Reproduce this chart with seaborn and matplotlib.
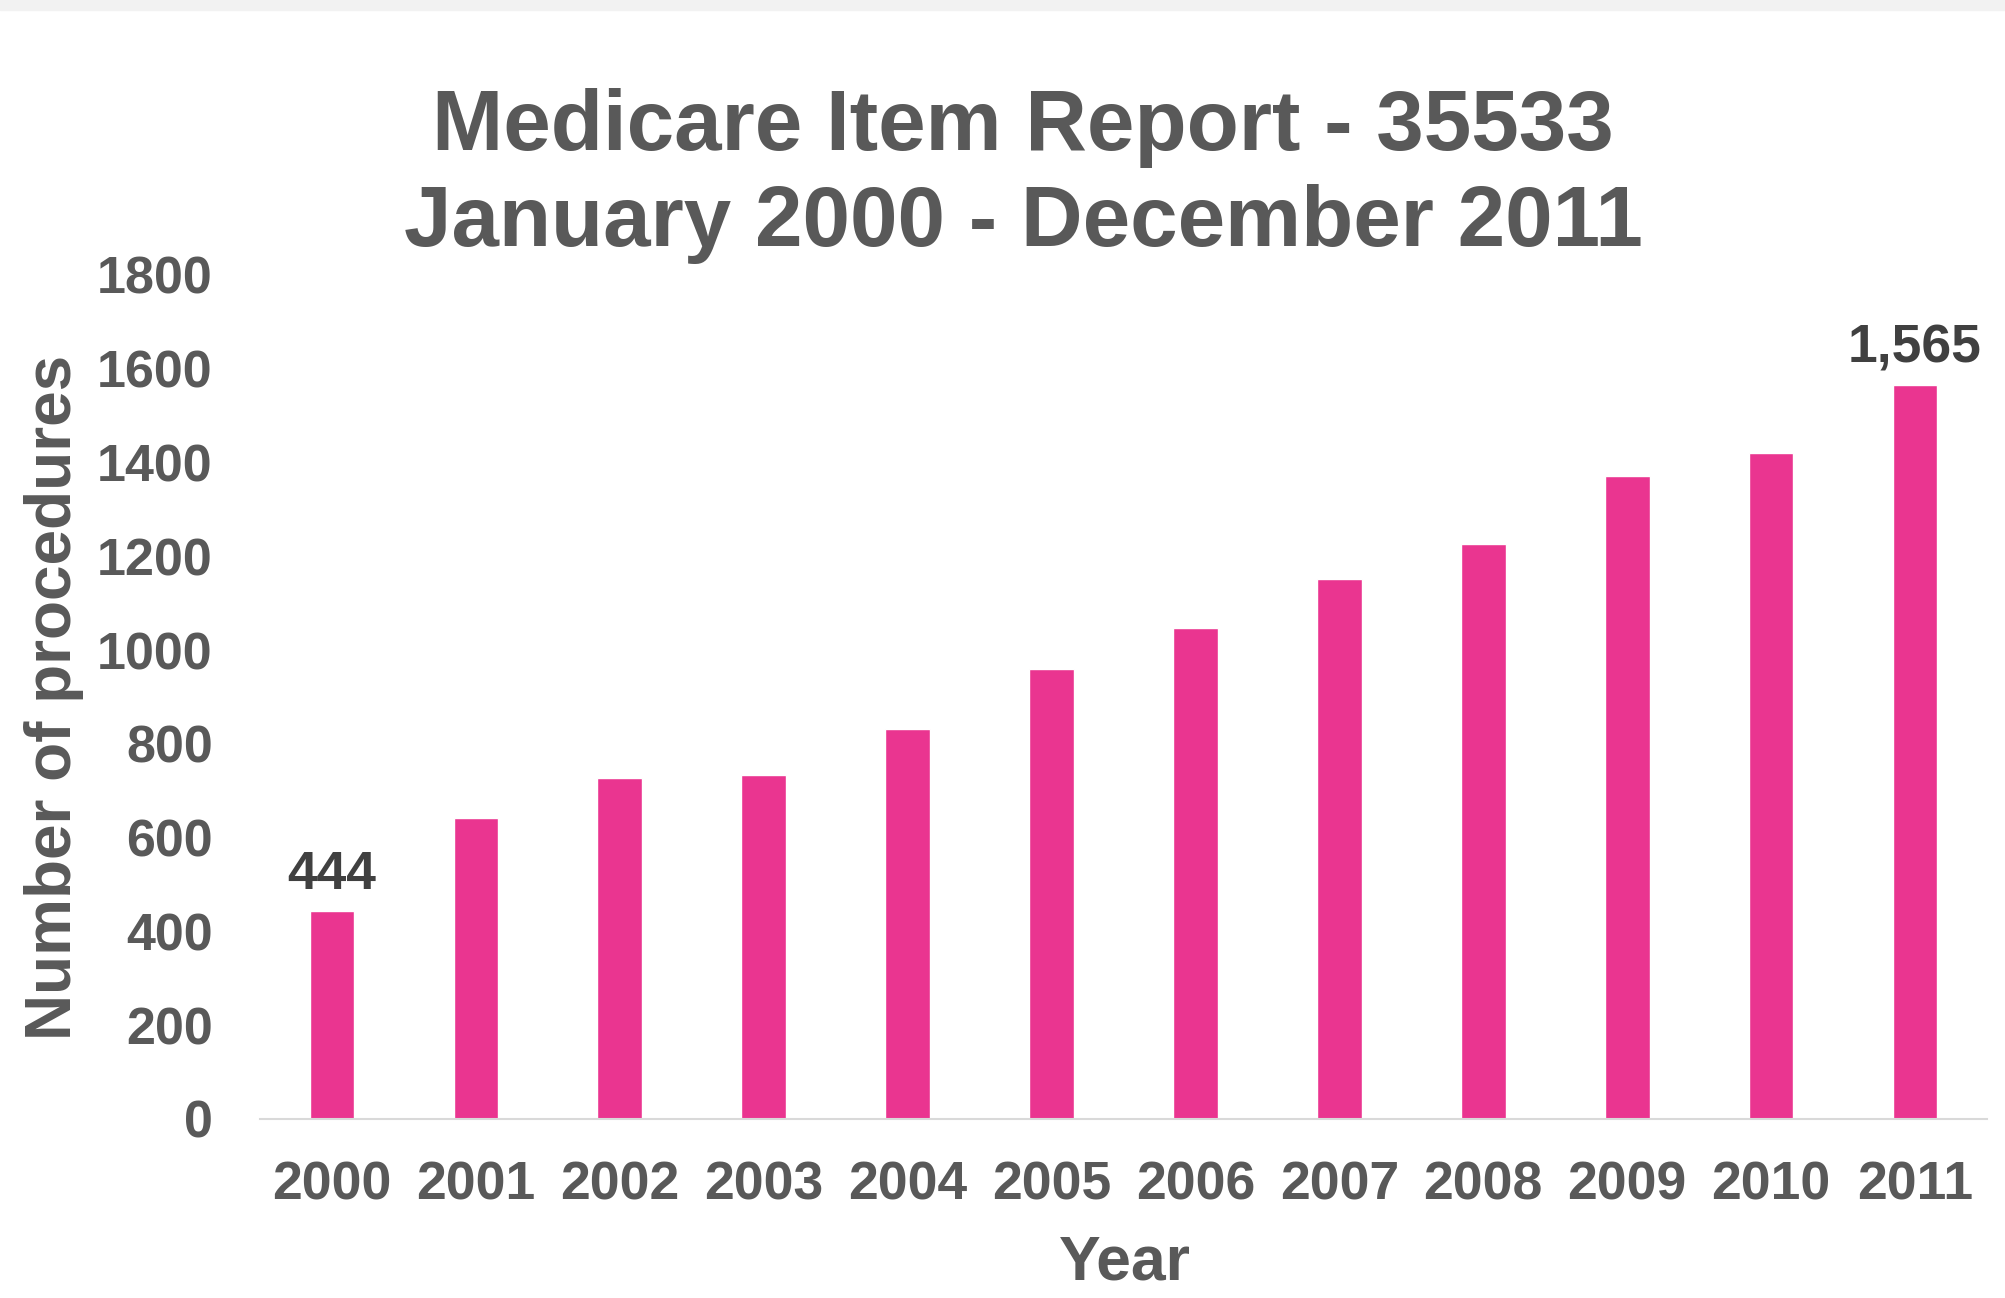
import matplotlib
matplotlib.use("Agg")
import matplotlib.pyplot as plt
import seaborn as sns
import pandas as pd

years = ["2000", "2001", "2002", "2003", "2004", "2005", "2006", "2007", "2008", "2009", "2010", "2011"]
procedures = [444, 641, 728, 733, 832, 960, 1047, 1151, 1227, 1372, 1421, 1565]
yticks = [0, 200, 400, 600, 800, 1000, 1200, 1400, 1600, 1800]
labelled = {0: "444", 11: "1,565"}

sns.set_theme(style="white")
plt.rcParams["font.family"] = ["Liberation Sans", "DejaVu Sans"]
plt.rcParams["font.weight"] = "bold"

df = pd.DataFrame({"Year": years, "Procedures": procedures})

fig = plt.figure(figsize=(20.06, 12.98), dpi=100)
fig.patch.set_facecolor("white")
# light gray strip at top
fig.add_artist(plt.Rectangle((0, 1 - 10 / 1298), 1, 10 / 1298, transform=fig.transFigure,
                             color="#f2f2f2", zorder=0))

ax = fig.add_axes([260 / 2006, 1 - 1119 / 1298, (1987 - 260) / 2006, (1119 - 275) / 1298])
sns.barplot(data=df, x="Year", y="Procedures", color="#EA3590", saturation=1,
            width=0.31, ax=ax)

ax.set_xlim(-0.5, 11.5)
ax.set_ylim(0, 1800)
ax.set_yticks(yticks)
ax.set_yticklabels([str(v) for v in yticks])

for s in ["top", "right", "left"]:
    ax.spines[s].set_visible(False)
ax.spines["bottom"].set_color("#d9d9d9")
ax.spines["bottom"].set_linewidth(1.5)

ax.tick_params(axis="y", length=0, pad=34, labelsize=37.5, labelcolor="#595959")
ax.tick_params(axis="x", length=0, pad=30, labelsize=38.5, labelcolor="#595959")
for lbl in ax.get_xticklabels() + ax.get_yticklabels():
    lbl.set_fontweight("bold")

ax.set_xlabel("")
ax.set_ylabel("")
fig.text(1125 / 2006, 1 - 1279 / 1298, "Year", ha="center", va="baseline",
         fontsize=45, fontweight="bold", color="#595959")
fig.text(54 / 2006, 1 - 697 / 1298, "Number of procedures", ha="center", va="center",
         rotation=90, fontsize=46, fontweight="bold", color="#595959")

for i, txt in labelled.items():
    ax.annotate(txt, (i, procedures[i]), xytext=(0, 16), textcoords="offset points",
                ha="center", va="baseline", fontsize=38.5, fontweight="bold", color="#404040")

fig.text(1023 / 2006, 1 - 150 / 1298, "Medicare Item Report - 35533", ha="center",
         va="baseline", fontsize=61.5, fontweight="bold", color="#595959")
fig.text(1023 / 2006, 1 - 246 / 1298, "January 2000 - December 2011", ha="center",
         va="baseline", fontsize=61.5, fontweight="bold", color="#595959")

fig.savefig("out.png", dpi=100, facecolor="white")
